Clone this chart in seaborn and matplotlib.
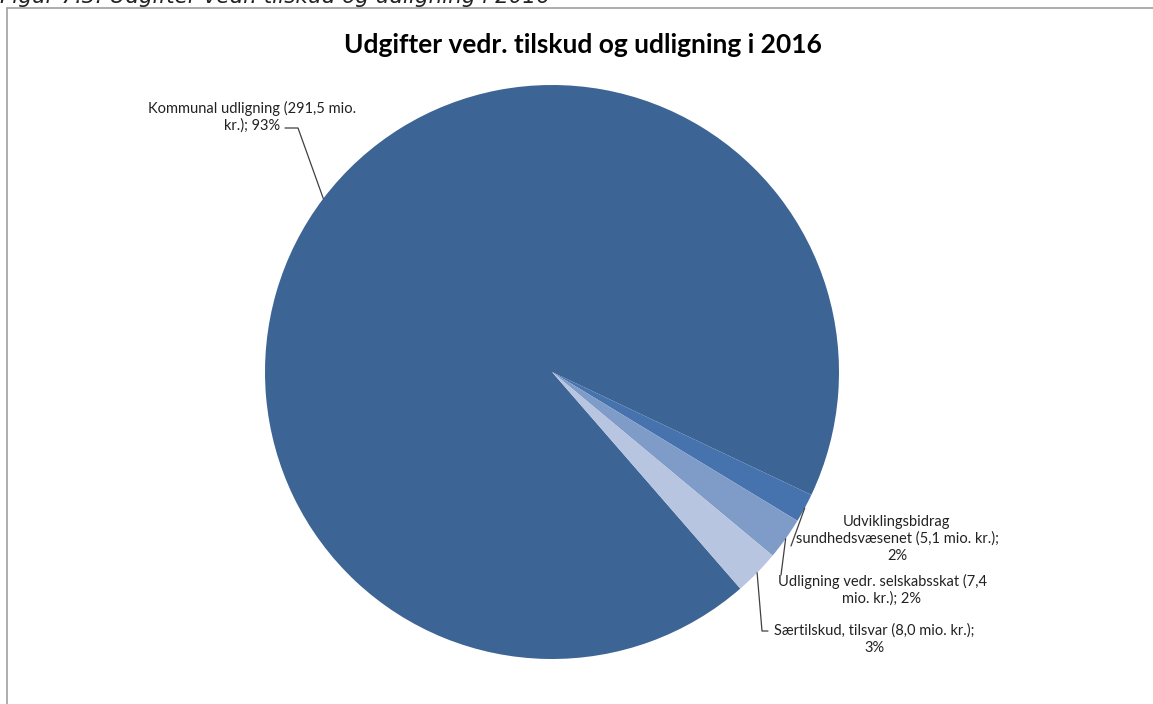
"""
Pie chart: Udgifter vedr. tilskud og udligning i 2016.
"""
import numpy as np
import matplotlib
matplotlib.use("Agg")
import matplotlib.pyplot as plt
import seaborn as sns

# data (mio. kr.)
categories = [
    "Kommunal udligning",
    "Udviklingsbidrag sundhedsvæsenet",
    "Udligning vedr. selskabsskat",
    "Særtilskud, tilsvar",
]
values = [291.5, 5.1, 7.4, 8.0]
label_texts = [
    "Kommunal udligning (291,5 mio.\nkr.); 93%",
    "Udviklingsbidrag\nsundhedsvæsenet (5,1 mio. kr.);\n2%",
    "Udligning vedr. selskabsskat (7,4\nmio. kr.); 2%",
    "Særtilskud, tilsvar (8,0 mio. kr.);\n3%",
]
colors = ["#3c6494", "#4673ae", "#7f9cc8", "#b8c5e1"]

sns.set_theme(style="white")
plt.rcParams["font.family"] = ["Lato", "DejaVu Sans"]

W, H = 1153, 704
fig = plt.figure(figsize=(W / 100, H / 100), dpi=100)


def fx(px):
    return px / W


def fy(py):
    return 1 - py / H


# chart frame (only left/top edges visible in the crop)
fig.add_artist(plt.Line2D([fx(6.5), fx(6.5)], [fy(8), fy(704)], color="#a0a0a0", lw=1.2))
fig.add_artist(plt.Line2D([fx(6.5), fx(1153)], [fy(8), fy(8)], color="#a0a0a0", lw=1.2))

# caption above the chart (partly cut off, as in the source page)
fig.text(fx(0), fy(3), "Figur 7.3: Udgifter vedr. tilskud og udligning i 2016",
         fontsize=15.5, style="italic", family="DejaVu Sans", color="#222222",
         ha="left", va="baseline")

fig.text(fx(583), fy(45), "Udgifter vedr. tilskud og udligning i 2016",
         fontsize=19, fontweight="bold", ha="center", va="center", color="black")

# pie axes
cx, cy, r = 552, 372, 287
ax = fig.add_axes([fx(cx - r), fy(cy + r), (2 * r) / W, (2 * r) / H])
wedges, _ = ax.pie(values, colors=colors, startangle=-49, counterclock=False,
                   radius=1, wedgeprops=dict(linewidth=0))
ax.set_xlim(-1, 1)
ax.set_ylim(-1, 1)
ax.set_aspect("equal")
ax.axis("off")

# label positions (pixel centres) and leader line bend points
label_pos = [(252, 117), (897, 539), (882, 590), (874, 639)]
leaders = [
    [(298, 128), (285, 128)],
    [(791, 546)],
    [(781, 575)],
    [(762, 631), (768, 631)],
]

for w, txt, (lx, ly), pts in zip(wedges, label_texts, label_pos, leaders):
    ang = np.deg2rad((w.theta1 + w.theta2) / 2)
    ex = cx + r * np.cos(ang)
    ey = cy - r * np.sin(ang)
    fig.text(fx(lx), fy(ly), txt, fontsize=10.5, ha="center", va="center",
             color="#222222", linespacing=1.25)
    xs = [ex] + [p[0] for p in pts]
    ys = [ey] + [p[1] for p in pts]
    fig.add_artist(plt.Line2D([fx(v) for v in xs], [fy(v) for v in ys],
                              color="#404040", lw=0.9))

fig.savefig("out.png", dpi=100)
